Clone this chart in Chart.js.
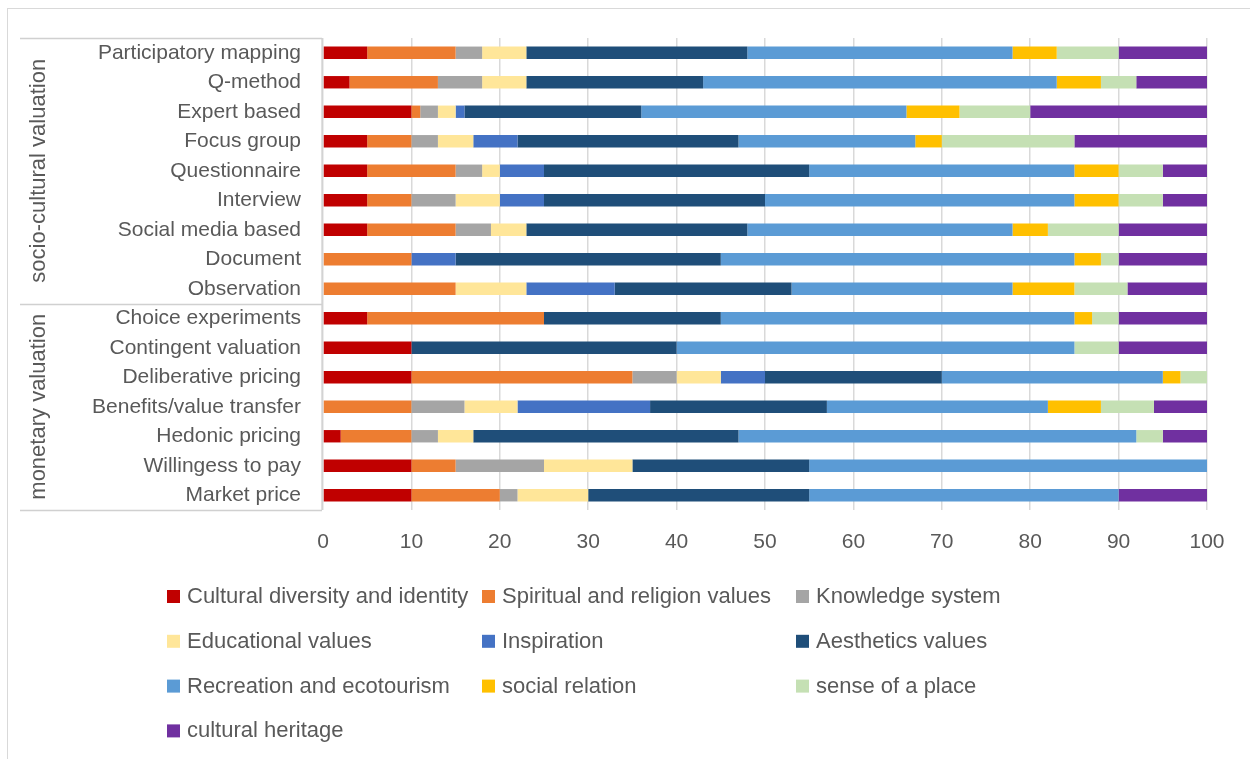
<!DOCTYPE html>
<html>
<head>
<meta charset="utf-8">
<script src="https://cdn.jsdelivr.net/npm/chart.js@4/dist/chart.umd.min.js"></script>
<style>
  html, body { margin: 0; padding: 0; background: #fff; }
  #wrap { width: 1250px; height: 759px; position: relative; }
</style>
</head>
<body>
<div id="wrap"><canvas id="chart" width="1250" height="759"></canvas></div>
<script>
// categories, top to bottom
var methods = [
    'Participatory mapping', 'Q-method', 'Expert based', 'Focus group', 'Questionnaire',
    'Interview', 'Social media based', 'Document', 'Observation',
    'Choice experiments', 'Contingent valuation', 'Deliberative pricing',
    'Benefits/value transfer', 'Hedonic pricing', 'Willingess to pay', 'Market price'
];

// groups of rows (count of methods in each)
var groupNames = ['socio-cultural valuation', 'monetary valuation'];
var groupSizes = [9, 7];

var seriesNames = [
    'Cultural diversity and identity', 'Spiritual and religion values', 'Knowledge system',
    'Educational values', 'Inspiration', 'Aesthetics values',
    'Recreation and ecotourism', 'social relation', 'sense of a place', 'cultural heritage'
];
var seriesColors = [
    '#C00000', '#ED7D31', '#A5A5A5', '#FFE699', '#4472C4',
    '#1F4E79', '#5B9BD5', '#FFC000', '#C5E0B4', '#7030A0'
];

// values per series, one entry per method (same order as methods)
var culturalDiversity = [5, 3, 10, 5, 5, 5, 5, 0, 0, 5, 10, 10, 0, 2, 10, 10];
var spiritualReligion = [10, 10, 1, 5, 10, 5, 10, 10, 15, 20, 0, 25, 10, 8, 5, 10];
var knowledgeSystem   = [3, 5, 2, 3, 3, 5, 4, 0, 0, 0, 0, 5, 6, 3, 10, 2];
var educational       = [5, 5, 2, 4, 2, 5, 4, 0, 8, 0, 0, 5, 6, 4, 10, 8];
var inspiration       = [0, 0, 1, 5, 5, 5, 0, 5, 10, 0, 0, 5, 15, 0, 0, 0];
var aesthetics        = [25, 20, 20, 25, 30, 25, 25, 30, 20, 20, 30, 20, 20, 30, 20, 25];
var recreation        = [30, 40, 30, 20, 30, 35, 30, 40, 25, 40, 45, 25, 25, 45, 45, 35];
var socialRelation    = [5, 5, 6, 3, 5, 5, 4, 3, 7, 2, 0, 2, 6, 0, 0, 0];
var senseOfPlace      = [7, 4, 8, 15, 5, 5, 8, 2, 6, 3, 5, 3, 6, 3, 0, 0];
var culturalHeritage  = [10, 8, 20, 15, 5, 5, 10, 10, 9, 10, 10, 0, 6, 5, 0, 10];

var xTicks = [0, 10, 20, 30, 40, 50, 60, 70, 80, 90, 100];

var allSeries = [culturalDiversity, spiritualReligion, knowledgeSystem, educational, inspiration,
    aesthetics, recreation, socialRelation, senseOfPlace, culturalHeritage];

var textColor = '#595959';
var lineColor = '#D9D9D9';
var fontFamily = '"Liberation Sans", Arial, sans-serif';

// Build datasets
var datasets = allSeries.map(function (values, i) {
    return {
        label: seriesNames[i],
        data: values,
        backgroundColor: seriesColors[i],
        borderWidth: 0,
        categoryPercentage: 1.0,
        barPercentage: 0.42
    };
});

// Draws the frame, group labels, separator lines and the legend
var tablePlugin = {
    id: 'tablePlugin',
    beforeDraw: function (chart) {
        var ctx = chart.ctx;
        ctx.save();
        ctx.fillStyle = '#fff';
        ctx.fillRect(0, 0, chart.width, chart.height);
        ctx.strokeStyle = lineColor;
        ctx.lineWidth = 1;
        ctx.strokeRect(7.5, 8.5, 1260, 800);
        ctx.restore();
    },
    afterDraw: function (chart) {
        var ctx = chart.ctx;
        var area = chart.chartArea;
        var y = chart.scales.y;
        var step = (area.bottom - area.top) / methods.length;
        ctx.save();
        ctx.strokeStyle = '#D0D0D0';
        ctx.lineWidth = 1.3;
        // axis line
        ctx.beginPath();
        ctx.moveTo(area.left - 1, area.top);
        ctx.lineTo(area.left - 1, area.bottom);
        ctx.stroke();
        // group lines + labels
        var start = 0;
        var bounds = [area.top];
        groupSizes.forEach(function (n) {
            start += n;
            bounds.push(y.getPixelForValue(start - 1) + step / 2);
        });
        bounds.forEach(function (b) {
            ctx.beginPath();
            ctx.moveTo(20, Math.round(b) + 0.5);
            ctx.lineTo(area.left - 1, Math.round(b) + 0.5);
            ctx.stroke();
        });
        ctx.fillStyle = textColor;
        ctx.font = '22px ' + fontFamily;
        ctx.textAlign = 'center';
        ctx.textBaseline = 'middle';
        groupNames.forEach(function (g, i) {
            var cy = (bounds[i] + bounds[i + 1]) / 2;
            ctx.save();
            ctx.translate(39, cy);
            ctx.rotate(-Math.PI / 2);
            ctx.fillText(g, 0, 0);
            ctx.restore();
        });

        // legend in 3 columns
        var colX = [167, 482, 796];
        var rowY0 = 596, rowStep = 44.8;
        ctx.textAlign = 'left';
        ctx.font = '22px ' + fontFamily;
        chart.data.datasets.forEach(function (ds, i) {
            var cx = colX[i % 3];
            var cy = rowY0 + Math.floor(i / 3) * rowStep;
            ctx.fillStyle = ds.backgroundColor;
            ctx.fillRect(cx, cy - 6, 13, 13);
            ctx.fillStyle = textColor;
            ctx.fillText(ds.label, cx + 20, cy + 1);
        });
        ctx.restore();
    }
};

var chart = new Chart(document.getElementById('chart'), {
    type: 'bar',
    data: {
        labels: methods,
        datasets: datasets
    },
    options: {
        indexAxis: 'y',
        responsive: false,
        animation: false,
        devicePixelRatio: 1,
        layout: {
            padding: { left: 0, right: 43, top: 38, bottom: 0 }
        },
        plugins: {
            legend: { display: false },
            tooltip: { enabled: false }
        },
        scales: {
            x: {
                stacked: true,
                min: 0,
                max: 100,
                afterBuildTicks: function (scale) {
                    scale.ticks = xTicks.map(function (v) { return { value: v }; });
                },
                afterFit: function (scale) { scale.height = 249; },
                grid: { color: lineColor, lineWidth: 1.5, drawTicks: false },
                border: { display: false },
                ticks: {
                    color: textColor,
                    padding: 20,
                    font: { family: fontFamily, size: 21 }
                }
            },
            y: {
                stacked: true,
                afterFit: function (scale) { scale.width = 323; },
                grid: { display: false, drawTicks: false },
                border: { display: false },
                ticks: {
                    color: textColor,
                    padding: 22,
                    autoSkip: false,
                    font: { family: fontFamily, size: 21 }
                }
            }
        }
    },
    plugins: [tablePlugin]
});
</script>
</body>
</html>
